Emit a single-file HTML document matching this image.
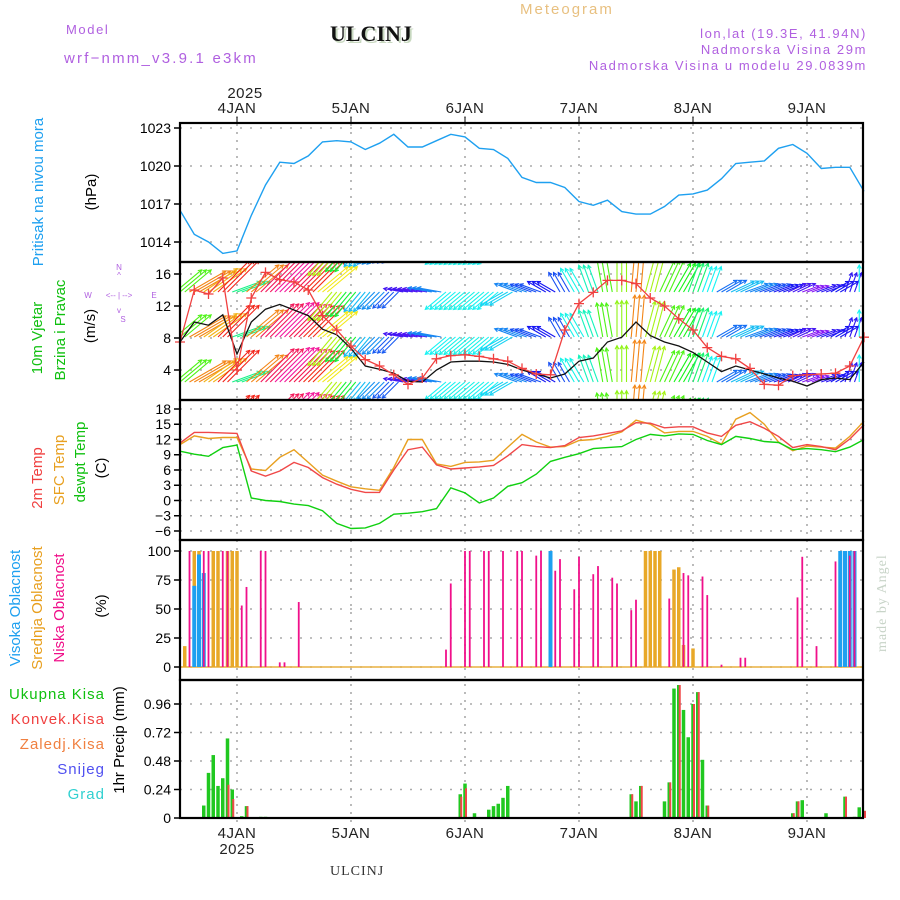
<!DOCTYPE html>
<html><head><meta charset="utf-8"><style>
html,body{margin:0;padding:0;background:#fff;}
svg{display:block;font-family:"Liberation Sans",sans-serif;}
.pt{fill:#b060e0;font-size:13px;letter-spacing:1.6px;}
.tk{font-size:14px;fill:#000;}
.day{font-size:15px;fill:#222;letter-spacing:0.5px;}
</style></head><body>
<svg id="chart" width="900" height="900" viewBox="0 0 900 900" xmlns="http://www.w3.org/2000/svg">
<defs><clipPath id="clipWind"><rect x="180" y="263" width="683" height="136"/></clipPath></defs>
<text class="pt" x="66" y="34">Model</text>
<text class="pt" x="64" y="63" style="font-size:15px;letter-spacing:2.2px">wrf−nmm_v3.9.1 e3km</text>
<text x="332" y="43" style="font-family:'Liberation Serif',serif;font-weight:bold;font-size:22px;fill:#c8d8c0">ULCINJ</text>
<text x="330" y="41" style="font-family:'Liberation Serif',serif;font-weight:bold;font-size:22px;fill:#111">ULCINJ</text>
<text x="520" y="14" style="fill:#e8c080;font-size:15px;letter-spacing:2px">Meteogram</text>
<text class="pt" x="867" y="38" text-anchor="end">lon,lat (19.3E, 41.94N)</text>
<text class="pt" x="867" y="54" text-anchor="end">Nadmorska Visina 29m</text>
<text class="pt" x="867" y="70" text-anchor="end">Nadmorska Visina u modelu 29.0839m</text>
<text x="886" y="652" transform="rotate(-90 886 652)" style="font-family:'Liberation Serif',serif;font-size:14px;fill:#c8d4c8;letter-spacing:1px">made by Angel</text>
<text x="330" y="875" style="font-family:'Liberation Serif',serif;font-size:14px;fill:#333;letter-spacing:1px">ULCINJ</text>

<g>
<text x="43" y="192" transform="rotate(-90 43 192)" text-anchor="middle" style="fill:#1ea0f0;font-size:15px">Pritisak na nivou mora</text>
<text x="96" y="192" transform="rotate(-90 96 192)" text-anchor="middle" style="font-size:15px">(hPa)</text>
<text x="42" y="338" transform="rotate(-90 42 338)" text-anchor="middle" style="fill:#10c010;font-size:15px">10m Vjetar</text>
<text x="65" y="330" transform="rotate(-90 65 330)" text-anchor="middle" style="fill:#10c010;font-size:15px">Brzina i Pravac</text>
<text x="95" y="326" transform="rotate(-90 95 326)" text-anchor="middle" style="font-size:15px">(m/s)</text>
<g style="fill:#b060e0;font-size:8px">
<text x="119" y="270" text-anchor="middle">N</text><text x="119" y="278" text-anchor="middle">^</text>
<text x="88" y="298" text-anchor="middle">W</text><text x="154" y="298" text-anchor="middle">E</text>
<text x="119" y="298" text-anchor="middle">&lt;-- | --&gt;</text>
<text x="119" y="313" text-anchor="middle">v</text><text x="123" y="322" text-anchor="middle">S</text>
</g>
<text x="42" y="478" transform="rotate(-90 42 478)" text-anchor="middle" style="fill:#f04040;font-size:15px">2m Temp</text>
<text x="64" y="470" transform="rotate(-90 64 470)" text-anchor="middle" style="fill:#e8a020;font-size:15px">SFC Temp</text>
<text x="85" y="462" transform="rotate(-90 85 462)" text-anchor="middle" style="fill:#10c010;font-size:15px">dewpt Temp</text>
<text x="106" y="468" transform="rotate(-90 106 468)" text-anchor="middle" style="font-size:15px">(C)</text>
<text x="20" y="608" transform="rotate(-90 20 608)" text-anchor="middle" style="fill:#1ea0f0;font-size:15px">Visoka Oblacnost</text>
<text x="42" y="608" transform="rotate(-90 42 608)" text-anchor="middle" style="fill:#e8a020;font-size:15px">Srednja Oblacnost</text>
<text x="64" y="608" transform="rotate(-90 64 608)" text-anchor="middle" style="fill:#f0108a;font-size:15px">Niska Oblacnost</text>
<text x="106" y="606" transform="rotate(-90 106 606)" text-anchor="middle" style="font-size:15px">(%)</text>
<text x="105" y="699" text-anchor="end" style="fill:#10c010;font-size:15px;letter-spacing:1px">Ukupna  Kisa</text>
<text x="105" y="724" text-anchor="end" style="fill:#f04040;font-size:15px;letter-spacing:1px">Konvek.Kisa</text>
<text x="105" y="749" text-anchor="end" style="fill:#f08040;font-size:15px;letter-spacing:1px">Zaledj.Kisa</text>
<text x="105" y="774" text-anchor="end" style="fill:#5050f0;font-size:15px;letter-spacing:1px">Snijeg</text>
<text x="105" y="799" text-anchor="end" style="fill:#30d0d0;font-size:15px;letter-spacing:1px">Grad</text>
<text x="124" y="740" transform="rotate(-90 124 740)" text-anchor="middle" style="font-size:15px">1hr Precip (mm)</text>
</g>
<g id="layer"></g>
</svg>
<script>
// time: hour index from 3JAN 12UTC, samples every 3h
const dayLabels=["4JAN","5JAN","6JAN","7JAN","8JAN","9JAN"];
const dayHours=[12,36,60,84,108,132];
const pressure=[1016.5,1014.6,1014.0,1013.1,1013.3,1016.1,1018.5,1020.3,1020.2,1020.8,1021.9,1022.0,1021.9,1021.3,1021.8,1022.5,1021.5,1021.5,1022.0,1022.5,1022.3,1021.4,1021.3,1020.6,1019.1,1018.7,1018.7,1018.3,1017.2,1016.9,1017.3,1016.4,1016.2,1016.2,1016.8,1017.7,1017.8,1018.1,1019.0,1020.2,1020.3,1020.4,1021.4,1021.7,1021.0,1019.8,1019.9,1019.9,1018.0];
const windSpeed=[7.5,10,9.6,10.9,6,10,11.6,12.2,11.5,10.8,9.1,8.4,6.7,4.5,4.1,3.6,2.6,2.5,4,5,5.1,5.1,5,4.7,4,3.5,3,3.5,5.1,5.5,7.5,8.1,10,8.3,7.5,7,6.2,5,3.8,4.5,4,3.5,3,2.6,2,2.8,3,2.8,5];
const windGust=[7.5,14,13.5,15.5,4,13,16.2,15.3,15,14,10.8,9,7,5.3,4.5,3.4,2.2,3,5.4,5.8,5.9,5.7,5.4,5.1,4.2,3.5,3.4,9,12.3,13.7,15.2,15.2,14.8,13,12,10.4,9,6.8,5.7,5.4,4.2,2.2,2.1,3.3,3.4,3.5,3.6,4.5,8.1];
const windDir=[230,240,235,225,250,230,225,225,225,225,230,40,40,40,45,45,100,100,100,50,50,50,50,60,110,110,120,150,150,160,170,180,185,195,205,210,200,200,240,245,250,250,250,245,250,250,240,200,180];
const temp2m=[11.3,13.4,13.4,13.3,13.2,5.8,4.8,5.8,7.5,6.5,4.5,3.2,2.2,1.6,1.6,6.0,10.0,10.5,7.0,6.2,6.4,6.6,6.9,8.8,11.0,10.6,10.4,10.8,12.4,12.7,13.2,13.7,15.3,15.2,14.3,14.5,14.5,13.3,12.6,14.8,15.5,14.2,12.6,10.4,11.0,10.6,10.0,12.1,14.9];
const tempSfc=[11.0,12.7,12.2,12.4,12.4,6.2,5.9,8.5,10.0,7.5,5.0,3.8,2.7,2.3,2.0,6.5,12.0,12.0,7.2,6.7,7.5,7.6,7.9,10.5,13.0,11.5,10.5,10.6,11.8,12.0,12.6,13.5,15.8,15.0,13.3,13.6,13.6,12.6,11.1,16.0,17.3,15.0,11.5,9.8,10.7,10.5,10.3,12.6,15.6];
const dewpoint=[9.7,9.1,8.7,10.4,10.9,0.5,0,-0.2,-0.7,-1.0,-2.0,-4.5,-5.5,-5.4,-4.5,-2.7,-2.5,-2.2,-1.6,2.5,1.5,-0.5,0.5,2.8,3.5,5.2,7.7,8.5,9.2,10.2,10.4,10.6,12.0,13.0,12.7,13.1,13.0,11.8,11.0,12.6,12.2,11.6,11.4,10.0,10.2,10.0,9.6,10.5,12.0];
const lowCloudHours=[2,5,6,9,10,13,14,17,18,21,22,25,56,57,60,61,64,65,68,71,72,75,76,79,80,83,84,87,88,91,92,95,96,103,106,107,110,111,114,118,119,130,131,134,138,141,142];
const lowCloud=[100,100,100,100,100,53,69,100,100,4,4,56,15,72,100,100,100,100,100,100,100,96,100,83,93,67,95,80,87,77,72,49,58,59,81,79,78,62,2,8,8,60,95,18,91,96,100];
const midCloudHours=[1,3,4,7,8,10,11,12,98,99,100,101,104,105,106,108];
const midCloud=[18,100,100,100,100,100,100,100,100,100,100,100,84,86,19,16];
const highCloudHours=[3,4,5,78,139,140,141,142];
const highCloud=[70,97,81,100,100,100,100,100];
const rainHours=[5,6,7,8,9,10,11,13,14,17,18,59,60,62,65,66,67,68,69,95,96,97,102,103,104,105,106,107,108,109,110,111,129,130,131,136,140,142,143,144];
const rainTotal=[0.105,0.38,0.53,0.27,0.335,0.67,0.24,0.015,0.1,0.01,0.01,0.2,0.29,0.04,0.07,0.1,0.12,0.17,0.27,0.2,0.14,0.27,0.14,0.3,1.09,1.12,0.91,0.68,0.96,1.06,0.49,0.105,0.04,0.14,0.15,0.04,0.18,0.01,0.09,0.06];
const convHours=[10,11,14,59,60,95,97,103,105,108,109,111,129,130,140,144];
const convRain=[0.28,0.16,0.1,0.18,0.25,0.2,0.27,0.3,1.12,0.96,1.06,0.105,0.04,0.14,0.18,0.06];
const pTicks=[1014,1017,1020,1023];
const wTicks=[4,8,12,16];
const tTicks=[-6,-3,0,3,6,9,12,15,18];
const cTicks=[0,25,50,75,100];
const rTicks=[0,0.24,0.48,0.72,0.96];

const NS="http://www.w3.org/2000/svg";
const layer=document.getElementById('layer');
const X0=180,X1=863;
const xH=h=>X0+h*4.75;
const xK=k=>xH(k*3);
const yP=v=>128+(1023-v)*12.667;
const yW=v=>402-v*8;
const yT=v=>409+(18-v)*5.083;
const yC=v=>667-v*1.16;
const yR=v=>818-v*118.75;
function mk(tag,attrs,parent){const e=document.createElementNS(NS,tag);for(const k in attrs)e.setAttribute(k,attrs[k]);(parent||layer).appendChild(e);return e;}
const panels=[[123,262],[262,400],[400,540],[540,680],[680,818]];
const grid=mk('g',{});


dayHours.forEach(h=>{mk('line',{x1:xH(h),x2:xH(h),y1:116,y2:826,stroke:'#aaa','stroke-width':1.6,'stroke-dasharray':'2 6'},grid);});
function hgrid(ticks,fy,fmt,name){
  const g=mk('g',{});
  
  
  ticks.forEach(t=>{const y=fy(t);
    mk('line',{x1:X0,x2:X1,y1:y,y2:y,stroke:'#aaa','stroke-width':1.6,'stroke-dasharray':'2 8'},g);
    mk('line',{x1:X0-6,x2:X0,y1:y,y2:y,stroke:'#000','stroke-width':1.5},g);
    const t2=mk('text',{x:X0-9,y:y+5,'text-anchor':'end',class:'tk'},g);t2.textContent=fmt(t);});
}
hgrid(pTicks,yP,t=>t,'pressure-y-axis');
hgrid(wTicks,yW,t=>t,'wind-y-axis');
hgrid(tTicks,yT,t=>t<0?'−'+(-t):t,'temp-y-axis');
hgrid(cTicks,yC,t=>t,'cloud-y-axis');
hgrid(rTicks,yR,t=>t,'precip-y-axis');
dayHours.forEach((h,i)=>{
  const a=mk('text',{x:xH(h),y:113,'text-anchor':'middle',class:'day'});a.textContent=dayLabels[i];
  
  
  const b=mk('text',{x:xH(h),y:838,'text-anchor':'middle',class:'day'});b.textContent=dayLabels[i];
  
  
});
const ya=mk('text',{x:xH(12)+8,y:98,'text-anchor':'middle',class:'day'});ya.textContent='2025';


const yb=mk('text',{x:xH(12),y:854,'text-anchor':'middle',class:'day'});yb.textContent='2025';



function line(arr,fy,color,name,w){
  const pts=arr.map((v,k)=>xK(k).toFixed(1)+','+fy(v).toFixed(1)).join(' ');
  const p=mk('polyline',{points:pts,fill:'none',stroke:color,'stroke-width':w||1.4});
  
  
  return p;
}
line(pressure,yP,'#1ea0f0','pressure-line');
const wg=mk('g',{'clip-path':'url(#clipWind)'});


const rows=[247,292,337,382,427];
windDir.forEach((d,k)=>{
  const s=windSpeed[k];let hue=330-s*30;while(hue<0)hue+=360;
  const col='hsl('+hue+',90%,52%)';
  const to=(d+180)*Math.PI/180;const L=12+3*s;
  const dx=Math.sin(to)*L,dy=-Math.cos(to)*L;
  rows.forEach(ry=>{
    for(let j=0;j<3;j++){
      const bx=xK(k)+j*4.75-4.75, by=ry;
      const ex=bx+dx,ey=by+dy;
      mk('line',{x1:bx,y1:by,x2:ex,y2:ey,stroke:col,'stroke-width':1.1},wg);
      const a=Math.atan2(dy,dx);
      mk('polyline',{points:(ex-4*Math.cos(a-0.5))+','+(ey-4*Math.sin(a-0.5))+' '+ex+','+ey+' '+(ex-4*Math.cos(a+0.5))+','+(ey-4*Math.sin(a+0.5)),fill:'none',stroke:col,'stroke-width':1.1},wg);
    }
  });
});
line(windSpeed,yW,'#111','wind-speed-line',1.3);
line(windGust,yW,'#f04040','wind-gust-line',1.3);
const gm=mk('g',{});


windGust.forEach((v,k)=>{const x=xK(k),y=yW(v);
  mk('path',{d:'M'+(x-5)+' '+y+'h10M'+x+' '+(y-5)+'v10',stroke:'#f04040','stroke-width':1.3},gm);});
line(tempSfc,yT,'#e8a020','sfc-temp-line');
line(temp2m,yT,'#f04848','temp-2m-line');
line(dewpoint,yT,'#10d010','dewpoint-line');
function bars(hours,vals,fy,color,w,name,off){
  const g=mk('g',{});
  
  
  hours.forEach((h,i)=>{const y=fy(vals[i]);const y0=fy(0);
    mk('rect',{x:xH(h)-w/2+(off||0),y:y,width:w,height:Math.max(0.5,y0-y),fill:color},g);});
}
mk('line',{x1:X0,x2:X1,y1:yC(0),y2:yC(0),stroke:'#e8b040','stroke-width':1.5});
bars(midCloudHours,midCloud,yC,'#e8a828',3.5,'mid-cloud-bars');
bars(highCloudHours,highCloud,yC,'#1ea0f0',4,'high-cloud-bars');
bars(lowCloudHours,lowCloud,yC,'#f0108a',1.8,'low-cloud-bars');
mk('line',{x1:X0,x2:X1,y1:yR(0),y2:yR(0),stroke:'#000','stroke-width':1.5,'stroke-dasharray':'5 3'});
bars(rainHours,rainTotal,yR,'#20c820',3.5,'total-rain-bars');
bars(convHours,convRain,yR,'#f04848',2,'convective-rain-bars',1);
const fr=mk('g',{});


panels.forEach(p=>mk('rect',{x:X0,y:p[0],width:X1-X0,height:p[1]-p[0],fill:'none',stroke:'#000','stroke-width':2.2},fr));
dayHours.forEach(h=>{mk('line',{x1:xH(h),x2:xH(h),y1:117,y2:123,stroke:'#000','stroke-width':1},fr);});
</script>
</body></html>
